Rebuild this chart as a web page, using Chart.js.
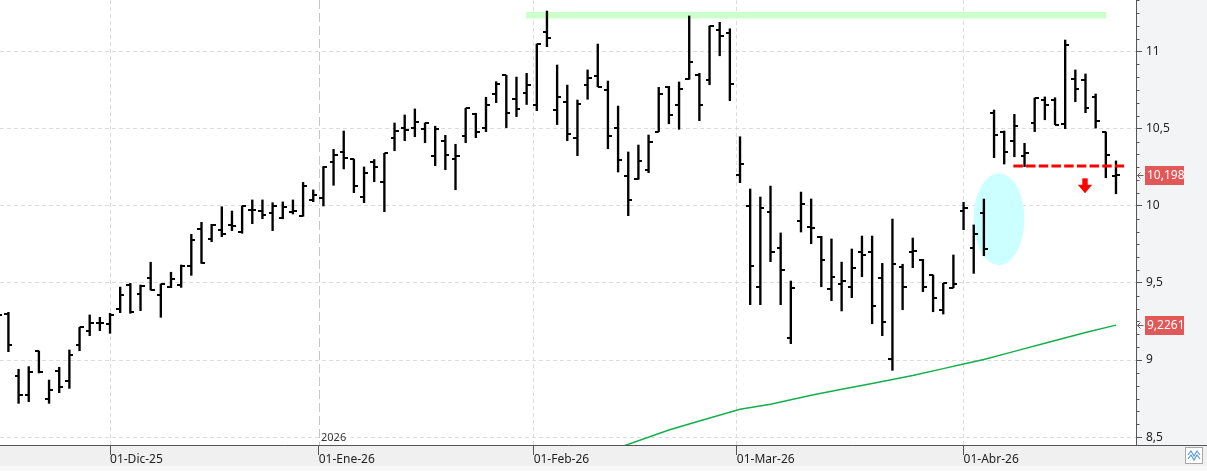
<!DOCTYPE html>
<html><head><meta charset="utf-8">
<script src="https://cdn.jsdelivr.net/npm/chart.js@4/dist/chart.umd.min.js"></script>
<style>html,body{margin:0;padding:0;background:#fff;overflow:hidden}#wrap{width:1207px;height:471px;position:relative}canvas{display:block}</style>
</head><body><div id="wrap"><canvas id="c" width="1207" height="471"></canvas></div>
<script>
// ---- DATA ----
const dates = ['14/11/25','17/11/25','18/11/25','19/11/25','20/11/25','21/11/25','24/11/25','25/11/25','26/11/25','27/11/25','28/11/25',
'01/12/25','02/12/25','03/12/25','04/12/25','05/12/25','08/12/25','09/12/25','10/12/25','11/12/25','12/12/25','15/12/25','16/12/25','17/12/25','18/12/25','19/12/25','22/12/25','23/12/25','24/12/25','29/12/25','30/12/25','31/12/25',
'02/01/26','05/01/26','06/01/26','07/01/26','08/01/26','09/01/26','12/01/26','13/01/26','14/01/26','15/01/26','16/01/26','19/01/26','20/01/26','21/01/26','22/01/26','23/01/26','26/01/26','27/01/26','28/01/26','29/01/26','30/01/26',
'02/02/26','03/02/26','04/02/26','05/02/26','06/02/26','09/02/26','10/02/26','11/02/26','12/02/26','13/02/26','16/02/26','17/02/26','18/02/26','19/02/26','20/02/26','23/02/26','24/02/26','25/02/26','26/02/26','27/02/26',
'02/03/26','03/03/26','04/03/26','05/03/26','06/03/26','09/03/26','10/03/26','11/03/26','12/03/26','13/03/26','16/03/26','17/03/26','18/03/26','19/03/26','20/03/26','23/03/26','24/03/26','25/03/26','26/03/26','27/03/26','30/03/26','31/03/26',
'01/04/26','02/04/26','07/04/26','08/04/26','09/04/26','10/04/26','13/04/26','14/04/26','15/04/26','16/04/26','17/04/26','20/04/26','21/04/26','22/04/26','23/04/26','24/04/26'];

const open = [9.27,9.298,8.896,8.773,9.058,8.747,8.929,8.864,9.095,9.188,
9.238,9.233,9.329,9.486,9.428,9.530,9.422,9.475,9.486,9.610,
9.850,9.785,9.843,9.874,9.832,9.973,9.966,9.951,9.919,9.958,
9.936,10.038,10.051,10.282,10.347,10.303,10.055,10.282,10.152,10.438,
10.503,10.503,10.496,10.321,10.418,10.302,10.451,10.593,10.503,10.725,
10.846,10.691,10.730,10.652,11.125,10.621,10.671,10.438,10.781,10.840,
10.751,10.503,10.191,10.172,10.230,10.481,10.768,10.652,10.820,10.846,
10.814,11.138,11.121,10.198,9.997,9.471,9.960,9.726,9.141,9.899,
9.861,9.798,9.458,9.491,9.471,9.698,9.698,9.530,9.006,9.603,
9.698,9.649,9.549,9.324,9.469,9.966,9.724,9.951,10.600,10.481,
10.418,10.323,10.535,10.686,10.686,10.529,10.820,10.816,10.704,10.477,10.195];
const high = [9.32,9.309,8.940,8.957,9.058,8.870,8.953,9.065,9.212,9.292,
9.277,9.303,9.473,9.497,9.486,9.634,9.493,9.569,9.616,9.815,
9.893,9.880,9.994,9.966,9.999,10.038,10.038,10.020,10.025,10.038,
10.152,10.103,10.254,10.366,10.485,10.303,10.252,10.300,10.340,10.537,
10.589,10.628,10.537,10.516,10.457,10.399,10.632,10.600,10.704,10.805,
10.846,10.835,10.859,11.049,11.263,10.913,10.783,10.686,10.881,11.049,
10.809,10.647,10.349,10.394,10.459,10.768,10.775,10.803,11.231,10.859,
11.166,11.190,11.148,10.448,10.109,10.057,10.128,9.824,9.512,10.089,
10.044,9.802,9.785,9.635,9.720,9.804,9.804,9.627,9.914,9.621,
9.791,9.653,9.551,9.497,9.681,10.023,9.876,10.044,10.621,10.485,
10.593,10.405,10.699,10.706,10.701,11.075,10.881,10.855,10.725,10.479,10.291];
const low = [9.22,9.054,8.719,8.730,8.916,8.719,8.788,8.816,9.060,9.158,
9.190,9.173,9.307,9.303,9.320,9.454,9.277,9.469,9.471,9.549,
9.627,9.767,9.800,9.839,9.822,9.884,9.916,9.839,9.916,9.947,
9.932,10.027,9.999,10.133,10.239,10.085,10.020,10.156,9.962,10.357,
10.422,10.448,10.409,10.260,10.234,10.104,10.409,10.442,10.481,10.669,
10.507,10.578,10.657,10.617,11.032,10.527,10.422,10.325,10.691,10.772,
10.370,10.219,9.936,10.172,10.215,10.481,10.532,10.496,10.820,10.552,
10.785,10.973,10.682,10.150,9.359,9.359,9.638,9.359,9.106,9.830,
9.754,9.475,9.385,9.318,9.404,9.540,9.235,9.158,8.933,9.326,
9.599,9.443,9.313,9.298,9.469,9.845,9.562,9.676,10.312,10.271,
10.318,10.254,10.481,10.558,10.526,10.500,10.675,10.604,10.504,10.182,10.078];
const close = [9.292,9.097,8.773,8.924,8.919,8.805,8.823,9.030,9.212,9.238,
9.238,9.292,9.422,9.313,9.480,9.454,9.491,9.523,9.610,9.778,
9.631,9.875,9.815,9.867,9.999,9.973,9.938,10.001,9.990,9.966,
10.127,10.068,10.254,10.329,10.308,10.127,10.213,10.250,10.340,10.485,
10.490,10.541,10.537,10.496,10.328,10.321,10.632,10.479,10.652,10.788,
10.602,10.626,10.781,11.049,11.086,10.704,10.464,10.658,10.827,10.772,
10.451,10.295,10.036,10.289,10.412,10.723,10.587,10.756,10.931,10.652,
11.166,11.101,10.788,10.271,9.610,9.984,9.698,9.582,9.465,10.010,
9.854,9.647,9.538,9.510,9.597,9.681,9.348,9.246,9.621,9.471,
9.705,9.473,9.400,9.497,9.493,9.984,9.817,9.718,10.457,10.347,
10.516,10.344,10.699,10.652,10.526,11.043,10.756,10.634,10.550,10.328,10.198];

// moving average (green) read at bar positions
const maIdx = [59,61,66,69,73,76,80,83,86,90,93,95,97,100,103,107,110];
const maVal = [8.40,8.43,8.546,8.605,8.68,8.713,8.772,8.81,8.848,8.9,8.944,8.974,9.003,9.056,9.108,9.178,9.2261];

// axis ticks
const yTicks = [8.5,9,9.5,10,10.5,11];
const monthLabels = ['01-Dic-25','01-Ene-26','01-Feb-26','01-Mar-26','01-Abr-26'];
const monthPos = [11,31.54,52.69,72.69,95];
const yearLabel = '2026';

// annotations (in data units)
const resistance = {from:51.95, to:109.05, value:11.235};
const support = {from:99.9, to:110.8, value:10.258};
const zone = {cx:98.48, cy:9.913, rx:2.51, ry:0.298};
const downArrow = {x:106.95, top:10.178, bottom:10.081};
const priceTags = [{value:10.198, text:'10,198'},{value:9.2261, text:'9,2261'}];

// ---- CHART ----
const FONT = '"Noto Sans", "Open Sans", Arial, sans-serif';
function tickCanvas(side){
  const c=document.createElement('canvas'); c.width=8; c.height=2;
  const g=c.getContext('2d'); g.fillStyle='#000';
  if(side==='L') g.fillRect(0,0,4,2); else g.fillRect(4,0,4,2);
  return c;
}
const openImg = tickCanvas('L'), closeImg = tickCanvas('R');
const idx = dates.map((d,i)=>i);
function noPad(s){ s.paddingTop=0; s.paddingBottom=0; s.paddingLeft=0; s.paddingRight=0; }

const decor = {
  id:'decor',
  beforeDraw(chart){
    const {ctx, chartArea:a, width, height} = chart;
    ctx.save();
    ctx.fillStyle='#ffffff'; ctx.fillRect(0,0,width,height);
    ctx.fillStyle='#f3f4f6'; ctx.fillRect(a.right,0,width-a.right,a.bottom);
    ctx.fillStyle='#f0f0f0'; ctx.fillRect(0,a.bottom,width,height-a.bottom);
    ctx.fillStyle='#f7f7f7'; ctx.fillRect(0,466,width,height-466);
    ctx.restore();
  },
  beforeDatasetsDraw(chart){
    const {ctx, chartArea:a, scales:{x,y}} = chart;
    ctx.save();
    ctx.beginPath(); ctx.rect(a.left,a.top,a.right-a.left,a.bottom-a.top); ctx.clip();
    const jx = Math.round(x.getPixelForValue(monthPos[1]))+0.5;
    ctx.strokeStyle='#c6c6c6'; ctx.lineWidth=1; ctx.setLineDash([9,4]);
    ctx.beginPath(); ctx.moveTo(jx,a.top); ctx.lineTo(jx,a.bottom); ctx.stroke();
    ctx.setLineDash([]);
    ctx.fillStyle='#333'; ctx.font='11px '+FONT; ctx.textBaseline='bottom'; ctx.textAlign='left';
    ctx.fillText(yearLabel, jx+1.5, a.bottom-2);
    const cx=x.getPixelForValue(zone.cx), cy=y.getPixelForValue(zone.cy);
    const rx=Math.abs(x.getPixelForValue(zone.cx+zone.rx)-cx), ry=Math.abs(y.getPixelForValue(zone.cy+zone.ry)-cy);
    ctx.fillStyle='#ccffff'; ctx.beginPath(); ctx.ellipse(cx,cy,rx,ry,0,0,Math.PI*2); ctx.fill();
    ctx.restore();
  },
  afterDatasetsDraw(chart){
    const {ctx, scales:{x,y}} = chart;
    const ax=x.getPixelForValue(downArrow.x), t=y.getPixelForValue(downArrow.top), b=y.getPixelForValue(downArrow.bottom);
    const mid = t + (b-t)*0.42;
    ctx.save(); ctx.fillStyle='#ff0000';
    ctx.fillRect(ax-2.7,t,5.4,mid-t+0.5);
    ctx.beginPath(); ctx.moveTo(ax-7.2,mid); ctx.lineTo(ax+7.2,mid); ctx.lineTo(ax,b); ctx.closePath(); ctx.fill();
    ctx.restore();
  },
  afterDraw(chart){
    const {ctx, chartArea:a, width, scales:{y}} = chart;
    ctx.save();
    ctx.strokeStyle='#555'; ctx.lineWidth=1;
    ctx.beginPath(); ctx.moveTo(a.right, Math.round(a.bottom)+0.5); ctx.lineTo(width, Math.round(a.bottom)+0.5); ctx.stroke();
    const rx = Math.round(a.right)+0.5;
    for(let k=-6;k<=40;k++){
      const v = 8.5 + k/12;
      if (k%6===0) continue;
      const py = y.getPixelForValue(v);
      if (py < a.top || py > a.bottom-1) continue;
      ctx.beginPath(); ctx.moveTo(rx, Math.round(py)+0.5); ctx.lineTo(rx+3, Math.round(py)+0.5); ctx.stroke();
    }
    ctx.font='12px '+FONT; ctx.textBaseline='middle'; ctx.textAlign='left';
    priceTags.forEach(p=>{
      const py = y.getPixelForValue(p.value);
      ctx.fillStyle='#e25858'; ctx.fillRect(1145, Math.round(py)-9, 39, 19);
      ctx.fillStyle='#ffffff'; ctx.fillText(p.text, 1147, py+0.5);
      ctx.strokeStyle='#666'; ctx.lineWidth=1;
      ctx.beginPath(); ctx.moveTo(1143.5, Math.round(py)+0.5); ctx.lineTo(1137.5, Math.round(py)+0.5);
      ctx.moveTo(1140.5, Math.round(py)-2.5); ctx.lineTo(1137.5, Math.round(py)+0.5); ctx.lineTo(1140.5, Math.round(py)+3.5); ctx.stroke();
    });
    ctx.fillStyle='#ffffff'; ctx.fillRect(1185,447,18,17);
    ctx.strokeStyle='#a8a8a8'; ctx.strokeRect(1185.5,447.5,17,16);
    ctx.strokeStyle='#5a9bd5'; ctx.lineWidth=1.2;
    ctx.beginPath(); ctx.moveTo(1188,455); ctx.lineTo(1191,451); ctx.lineTo(1194,456); ctx.lineTo(1197,451); ctx.lineTo(1200,455); ctx.stroke();
    ctx.beginPath(); ctx.moveTo(1188,459); ctx.lineTo(1191,455); ctx.lineTo(1194,460); ctx.lineTo(1197,455); ctx.lineTo(1200,459); ctx.stroke();
    ctx.restore();
  }
};

new Chart(document.getElementById('c'), {
  type:'bar',
  data:{ datasets:[
    { type:'line', label:'support', data:[{x:support.from,y:support.value},{x:support.to,y:support.value}],
      borderColor:'#ff0000', borderWidth:3, borderDash:[9.5,3.2], pointRadius:0, order:1 },
    { type:'line', label:'open', data: idx.map(i=>({x:i,y:open[i]})), showLine:false,
      pointStyle:openImg, pointRadius:2, pointHoverRadius:2, order:2 },
    { type:'line', label:'close', data: idx.map(i=>({x:i,y:close[i]})), showLine:false,
      pointStyle:closeImg, pointRadius:2, pointHoverRadius:2, order:2 },
    { type:'bar', label:'range', data: idx.map(i=>({x:i,y:[low[i],high[i]]})),
      backgroundColor:'#000', borderWidth:0, barThickness:1.7, order:3 },
    { type:'line', label:'ma', data: maIdx.map((v,k)=>({x:v,y:maVal[k]})),
      borderColor:'#12b04c', borderWidth:1.5, pointRadius:0, tension:0, order:5 },
    { type:'line', label:'resistance', data:[{x:resistance.from,y:resistance.value},{x:resistance.to,y:resistance.value}],
      borderColor:'#ccffcc', borderWidth:6.5, borderCapStyle:'butt', pointRadius:0, order:10 }
  ]},
  plugins:[decor],
  options:{
    responsive:false, devicePixelRatio:1, animation:false,
    layout:{padding:0, autoPadding:false},
    plugins:{legend:{display:false}, tooltip:{enabled:false}},
    scales:{
      x:{ type:'linear', position:'bottom', min:0.172, max:111.97, offset:false,
        afterBuildTicks:s=>{ s.ticks = monthPos.map(v=>({value:v})); },
        afterFit:s=>{ s.height = 26; noPad(s); },
        ticks:{ autoSkip:false, maxRotation:0, minRotation:0, align:'start', padding:-3, color:'#222',
          font:{family:FONT, size:12}, callback:(v,i)=>monthLabels[i] },
        grid:{ offset:false, color:c=> c.index===1 ? 'rgba(0,0,0,0)' : '#dcdcdc', lineWidth:1, tickLength:10, tickColor:'#555' },
        border:{ display:true, color:'#555', width:1, dash:[4,3] }
      },
      y:{ type:'linear', position:'right', min:8.4488, max:11.3346,
        afterBuildTicks:s=>{ s.ticks = yTicks.map(v=>({value:v})); },
        afterFit:s=>{ s.width = 71; noPad(s); },
        ticks:{ padding:4, color:'#222', font:{family:FONT, size:12}, callback:v=>String(v).replace('.',',') },
        grid:{ color:'#dcdcdc', lineWidth:1, tickLength:6, tickColor:'#555' },
        border:{ display:true, color:'#555', width:1, dash:[4,3] }
      }
    }
  }
});
</script></body></html>
